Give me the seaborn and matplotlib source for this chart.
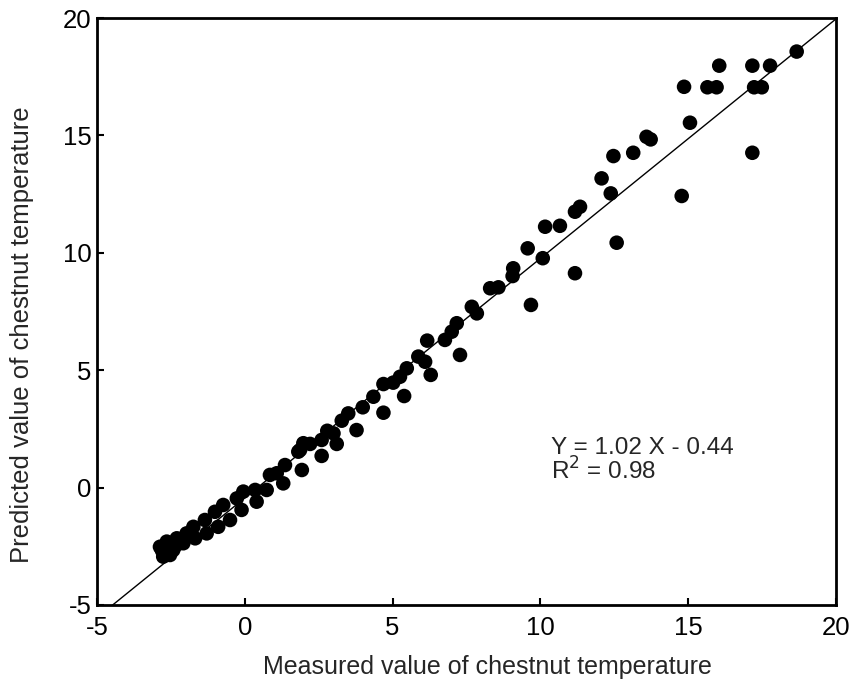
import matplotlib
matplotlib.use("Agg")
import matplotlib.pyplot as plt
import seaborn as sns
import numpy as np
import pandas as pd

measured = [18.67, 16.05, 17.17, 17.77, 14.86, 15.65, 15.96, 17.23, 17.49, 15.06,
            13.59, 13.73, 13.14, 12.47, 17.17, 12.07, 12.38, 14.78, 11.34, 11.17,
            10.66, 10.16, 12.58, 9.57, 10.08, 9.08, 9.06, 11.17, 8.30, 8.58,
            9.68, 7.68, 7.85, 7.17, 7.00, 6.77, 6.17, 7.28, 5.87, 6.10,
            6.29, 5.48, 5.25, 5.02, 4.69, 5.39, 4.35, 3.99, 4.69, 3.50,
            3.28, 3.78, 2.79, 3.00, 2.60, 3.11, 2.21, 1.87, 2.60, 1.98,
            1.81, 1.93, 1.36, 1.30, 1.08, 0.85, 0.74, 0.40, 0.35, -0.05,
            -0.11, -0.27, -0.50, -0.73, -0.90, -1.01, -1.29, -1.35, -1.74, -1.68,
            -1.97, -2.08, -2.30, -2.42, -2.64, -2.81, -2.76, -2.53, -2.87]
predicted = [18.57, 17.97, 17.97, 17.97, 17.07, 17.05, 17.05, 17.05, 17.05, 15.54,
             14.94, 14.83, 14.26, 14.12, 14.26, 13.17, 12.53, 12.42, 11.96, 11.75,
             11.15, 11.11, 10.43, 10.19, 9.77, 9.34, 9.01, 9.13, 8.49, 8.53,
             7.78, 7.70, 7.42, 7.00, 6.64, 6.29, 6.26, 5.65, 5.58, 5.36,
             4.80, 5.08, 4.72, 4.47, 4.41, 3.90, 3.87, 3.42, 3.19, 3.16,
             2.85, 2.45, 2.42, 2.31, 2.03, 1.86, 1.86, 1.60, 1.35, 1.89,
             1.53, 0.75, 0.96, 0.18, 0.61, 0.54, -0.10, -0.60, -0.10, -0.17,
             -0.95, -0.46, -1.38, -0.74, -1.67, -1.03, -1.95, -1.38, -1.67, -2.16,
             -1.95, -2.37, -2.16, -2.66, -2.30, -2.66, -2.94, -2.87, -2.52]
slope = 1.02
intercept = -0.44
r_squared = 0.98
ticks = [-5, 0, 5, 10, 15, 20]

sns.set_style("ticks")
plt.rcParams['font.family'] = ['Liberation Sans', 'DejaVu Sans']
plt.rcParams['axes.unicode_minus'] = False

fig = plt.figure(figsize=(8.56, 6.95), dpi=100)
ax = fig.add_axes([97/856, 1 - 605/695, (836 - 97)/856, (605 - 18)/695])

df = pd.DataFrame({"measured": measured, "predicted": predicted})
sns.scatterplot(data=df, x="measured", y="predicted", ax=ax, color="black",
                s=110, edgecolor="none", linewidth=0, zorder=3)

xs = np.linspace(-5, 20, 200)
ax.plot(xs, slope * xs + intercept, color="black", linewidth=1.0, zorder=2)

ax.set_xlim(-5, 20)
ax.set_ylim(-5, 20)
ax.set_xticks(ticks)
ax.set_yticks(ticks)
ax.tick_params(direction="in", length=5, width=1.5, labelsize=18.5, colors="black")
ax.tick_params(axis="x", pad=8)
ax.tick_params(axis="y", pad=4)
for sp in ax.spines.values():
    sp.set_visible(True)
    sp.set_linewidth(2)
    sp.set_color("black")

ax.set_xlabel("Measured value of chestnut temperature", fontsize=18)
ax.set_ylabel("Predicted value of chestnut temperature", fontsize=18.5)
ax.xaxis.set_label_coords(0.528, -0.085)
ax.yaxis.set_label_coords(-0.085, 0.46)

ax.text(10.35, 1.45, f"Y = {slope:.2f} X - {abs(intercept):.2f}", fontsize=17.5, va="baseline")
ax.text(10.35, 0.35, f"R$^2$ = {r_squared:.2f}", fontsize=17.5, va="baseline")

fig.savefig("out.png", dpi=100)
